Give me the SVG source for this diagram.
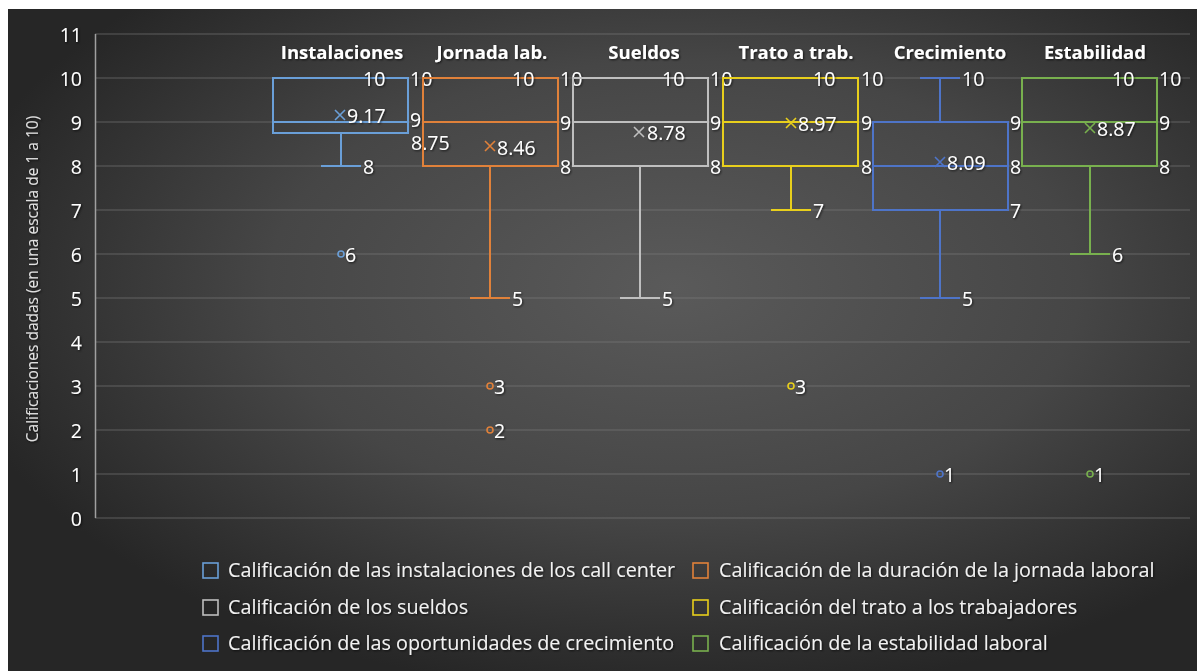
<svg xmlns="http://www.w3.org/2000/svg" width="1197" height="671" viewBox="0 0 1197 671">
<defs>
<radialGradient id="bg" cx="0.56" cy="0.42" r="0.62">
<stop offset="0" stop-color="#5a5a5a"/>
<stop offset="0.55" stop-color="#464646"/>
<stop offset="1" stop-color="#262626"/>
</radialGradient>
<filter id="sh" x="-20%" y="-20%" width="140%" height="140%">
<feDropShadow dx="1" dy="1" stdDeviation="0.8" flood-color="#000" flood-opacity="0.7"/>
</filter>
</defs>
<style>
.t{font-family:"Open Sans","Liberation Sans",sans-serif;fill:#ffffff;font-size:19.5px}
.tick{font-family:"Open Sans","Liberation Sans",sans-serif;fill:#ffffff;font-size:19.5px;text-anchor:end}
.ttl{font-family:"Open Sans","Liberation Sans",sans-serif;fill:#ffffff;font-size:18.5px;font-weight:bold;text-anchor:middle}
.leg{font-family:"Open Sans","Liberation Sans",sans-serif;fill:#f2f2f2;font-size:19.8px}
.ax{font-family:"Open Sans","Liberation Sans",sans-serif;fill:#e0e0e0;font-size:15.5px;text-anchor:middle}
.grid{stroke:#808080;stroke-opacity:0.6;stroke-width:1.2}
.box{fill:none;stroke-width:2}
.out{fill:none;stroke-width:1.6}
.lsq{fill:none;stroke-width:1.6}
</style>
<rect x="0" y="0" width="1197" height="671" fill="#ffffff"/>
<rect x="8" y="9" width="1189" height="662" fill="url(#bg)"/>

<g id="gridlines">
<line class="grid" x1="95" y1="34" x2="1190" y2="34"/>
<line class="grid" x1="95" y1="78" x2="1190" y2="78"/>
<line class="grid" x1="95" y1="122" x2="1190" y2="122"/>
<line class="grid" x1="95" y1="166" x2="1190" y2="166"/>
<line class="grid" x1="95" y1="210" x2="1190" y2="210"/>
<line class="grid" x1="95" y1="254" x2="1190" y2="254"/>
<line class="grid" x1="95" y1="298" x2="1190" y2="298"/>
<line class="grid" x1="95" y1="342" x2="1190" y2="342"/>
<line class="grid" x1="95" y1="386" x2="1190" y2="386"/>
<line class="grid" x1="95" y1="430" x2="1190" y2="430"/>
<line class="grid" x1="95" y1="474" x2="1190" y2="474"/>
<line class="grid" x1="95" y1="518" x2="1190" y2="518"/>
<line x1="95.5" y1="34" x2="95.5" y2="518" stroke="#a0a0a0" stroke-width="1.5"/>
</g>

<g id="y-axis" filter="url(#sh)">
<text class="tick" x="82" y="42">11</text>
<text class="tick" x="82" y="86">10</text>
<text class="tick" x="82" y="130">9</text>
<text class="tick" x="82" y="174">8</text>
<text class="tick" x="82" y="218">7</text>
<text class="tick" x="82" y="262">6</text>
<text class="tick" x="82" y="306">5</text>
<text class="tick" x="82" y="350">4</text>
<text class="tick" x="82" y="394">3</text>
<text class="tick" x="82" y="438">2</text>
<text class="tick" x="82" y="482">1</text>
<text class="tick" x="82" y="526">0</text>
<text class="ax" transform="translate(38,279) rotate(-90)">Calificaciones dadas (en una escala de 1 a 10)</text>
</g>

<g id="titles" filter="url(#sh)">
<text class="ttl" x="342" y="59">Instalaciones</text>
<text class="ttl" x="492" y="59">Jornada lab.</text>
<text class="ttl" x="644" y="59">Sueldos</text>
<text class="ttl" x="796" y="59">Trato a trab.</text>
<text class="ttl" x="950" y="59">Crecimiento</text>
<text class="ttl" x="1095" y="59">Estabilidad</text>
</g>

<g id="instalaciones" stroke="#6a9fd8">
<rect class="box" x="273" y="78" width="135" height="55"/>
<line x1="273" y1="122" x2="408" y2="122" stroke-width="2"/>
<line x1="341" y1="133" x2="341" y2="166" stroke-width="2"/>
<line x1="321" y1="166" x2="361" y2="166" stroke-width="2"/>
<path d="M335 110 L345 120 M345 110 L335 120" stroke-width="1.6"/>
<circle class="out" cx="341" cy="254" r="3"/>
<g stroke="none" filter="url(#sh)">
<text class="t" x="363" y="86">10</text>
<text class="t" x="410" y="86">10</text>
<text class="t" x="410" y="127">9</text>
<text class="t" x="411" y="150">8.75</text>
<text class="t" x="347" y="123">9.17</text>
<text class="t" x="363" y="174">8</text>
<text class="t" x="345" y="262">6</text>
</g>
</g>

<g id="jornada" stroke="#e0813a">
<rect class="box" x="423" y="78" width="135" height="88"/>
<line x1="423" y1="122" x2="558" y2="122" stroke-width="2"/>
<line x1="490" y1="166" x2="490" y2="298" stroke-width="2"/>
<line x1="470" y1="298" x2="510" y2="298" stroke-width="2"/>
<path d="M485 141 L495 151 M495 141 L485 151" stroke-width="1.6"/>
<circle class="out" cx="490" cy="386" r="3"/>
<circle class="out" cx="490" cy="430" r="3"/>
<g stroke="none" filter="url(#sh)">
<text class="t" x="512" y="86">10</text>
<text class="t" x="560" y="86">10</text>
<text class="t" x="560" y="130">9</text>
<text class="t" x="560" y="174">8</text>
<text class="t" x="497" y="155">8.46</text>
<text class="t" x="512" y="306">5</text>
<text class="t" x="494" y="394">3</text>
<text class="t" x="494" y="438">2</text>
</g>
</g>

<g id="sueldos" stroke="#bfbfbf">
<rect class="box" x="573" y="78" width="135" height="88"/>
<line x1="573" y1="122" x2="708" y2="122" stroke-width="2"/>
<line x1="640" y1="166" x2="640" y2="298" stroke-width="2"/>
<line x1="620" y1="298" x2="660" y2="298" stroke-width="2"/>
<path d="M634 127 L644 137 M644 127 L634 137" stroke-width="1.6"/>
<g stroke="none" filter="url(#sh)">
<text class="t" x="662" y="86">10</text>
<text class="t" x="710" y="86">10</text>
<text class="t" x="710" y="130">9</text>
<text class="t" x="710" y="174">8</text>
<text class="t" x="647" y="140">8.78</text>
<text class="t" x="662" y="306">5</text>
</g>
</g>

<g id="trato" stroke="#e8cf1c">
<rect class="box" x="723" y="78" width="135" height="88"/>
<line x1="723" y1="122" x2="858" y2="122" stroke-width="2"/>
<line x1="791" y1="166" x2="791" y2="210" stroke-width="2"/>
<line x1="771" y1="210" x2="811" y2="210" stroke-width="2"/>
<path d="M786 118 L796 128 M796 118 L786 128" stroke-width="1.6"/>
<circle class="out" cx="791" cy="386" r="3"/>
<g stroke="none" filter="url(#sh)">
<text class="t" x="813" y="86">10</text>
<text class="t" x="861" y="86">10</text>
<text class="t" x="861" y="130">9</text>
<text class="t" x="861" y="174">8</text>
<text class="t" x="798" y="131">8.97</text>
<text class="t" x="813" y="218">7</text>
<text class="t" x="795" y="394">3</text>
</g>
</g>

<g id="crecimiento" stroke="#4e74c8">
<rect class="box" x="873" y="122" width="135" height="88"/>
<line x1="873" y1="166" x2="1008" y2="166" stroke-width="2"/>
<line x1="940" y1="122" x2="940" y2="78" stroke-width="2"/>
<line x1="920" y1="78" x2="960" y2="78" stroke-width="2"/>
<line x1="940" y1="210" x2="940" y2="298" stroke-width="2"/>
<line x1="920" y1="298" x2="960" y2="298" stroke-width="2"/>
<path d="M935 157 L945 167 M945 157 L935 167" stroke-width="1.6"/>
<circle class="out" cx="940" cy="474" r="3"/>
<g stroke="none" filter="url(#sh)">
<text class="t" x="962" y="86">10</text>
<text class="t" x="1010" y="130">9</text>
<text class="t" x="1010" y="174">8</text>
<text class="t" x="1010" y="218">7</text>
<text class="t" x="947" y="170">8.09</text>
<text class="t" x="962" y="306">5</text>
<text class="t" x="944" y="482">1</text>
</g>
</g>

<g id="estabilidad" stroke="#78b04e">
<rect class="box" x="1022" y="78" width="135" height="88"/>
<line x1="1022" y1="122" x2="1157" y2="122" stroke-width="2"/>
<line x1="1090" y1="166" x2="1090" y2="254" stroke-width="2"/>
<line x1="1070" y1="254" x2="1110" y2="254" stroke-width="2"/>
<path d="M1085 123 L1095 133 M1095 123 L1085 133" stroke-width="1.6"/>
<circle class="out" cx="1090" cy="474" r="3"/>
<g stroke="none" filter="url(#sh)">
<text class="t" x="1112" y="86">10</text>
<text class="t" x="1159" y="86">10</text>
<text class="t" x="1159" y="130">9</text>
<text class="t" x="1159" y="174">8</text>
<text class="t" x="1097" y="136">8.87</text>
<text class="t" x="1112" y="262">6</text>
<text class="t" x="1094" y="482">1</text>
</g>
</g>

<g id="legend">
<rect class="lsq" x="203" y="563" width="15" height="15" stroke="#6a9fd8"/>
<rect class="lsq" x="693" y="563" width="15" height="15" stroke="#e0813a"/>
<rect class="lsq" x="203" y="600" width="15" height="15" stroke="#bfbfbf"/>
<rect class="lsq" x="693" y="600" width="15" height="15" stroke="#e8cf1c"/>
<rect class="lsq" x="203" y="636" width="15" height="15" stroke="#4e74c8"/>
<rect class="lsq" x="693" y="636" width="15" height="15" stroke="#78b04e"/>
<g filter="url(#sh)">
<text class="leg" x="228" y="577">Calificación de las instalaciones de los call center</text>
<text class="leg" x="719" y="577">Calificación de la duración de la jornada laboral</text>
<text class="leg" x="228" y="614">Calificación de los sueldos</text>
<text class="leg" x="719" y="614">Calificación del trato a los trabajadores</text>
<text class="leg" x="228" y="650">Calificación de las oportunidades de crecimiento</text>
<text class="leg" x="719" y="650">Calificación de la estabilidad laboral</text>
</g>
</g>
</svg>
